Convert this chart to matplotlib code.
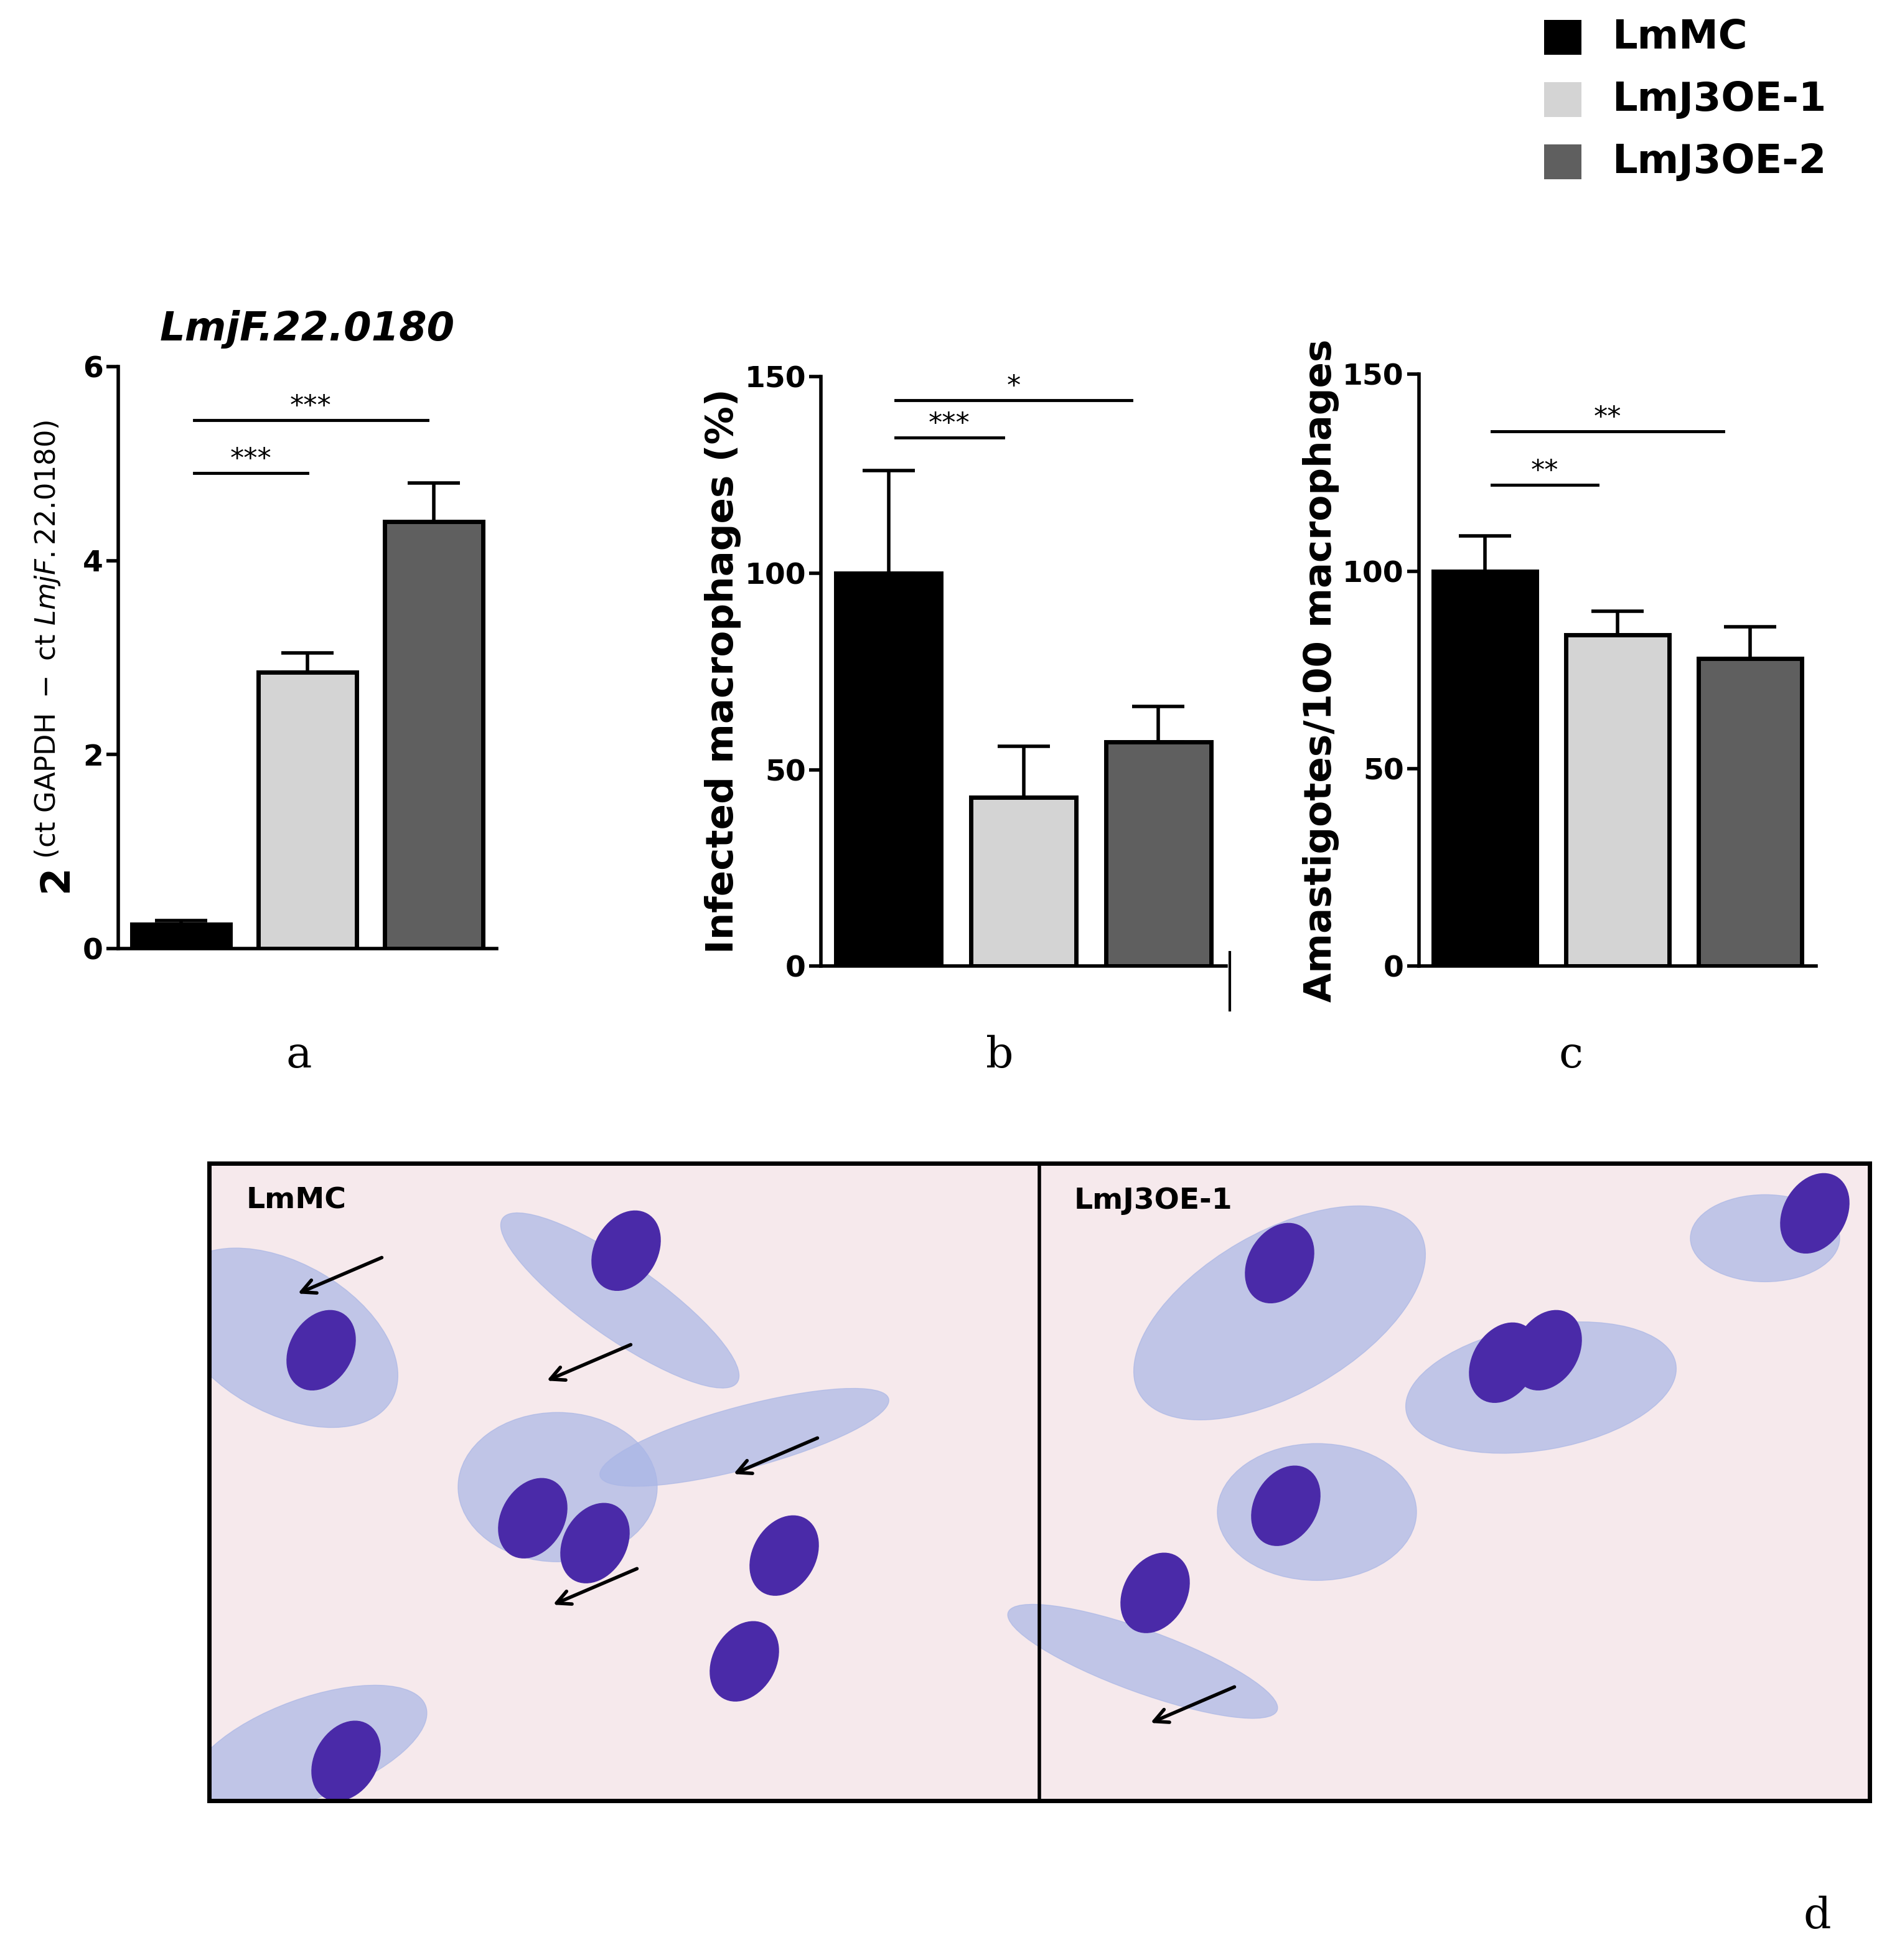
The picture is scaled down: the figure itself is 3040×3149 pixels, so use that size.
import matplotlib
matplotlib.use("Agg")
import matplotlib.pyplot as plt
from matplotlib.patches import Ellipse, Rectangle

groups = ["LmMC", "LmJ3OE-1", "LmJ3OE-2"]
colors = ["#000000", "#d4d4d4", "#5f5f5f"]
a_vals = [0.25, 2.85, 4.4]; a_err = [0.04, 0.2, 0.4]
b_vals = [100, 43, 57]; b_err = [26, 13, 9]
c_vals = [100, 84, 78]; c_err = [9, 6, 8]

fig = plt.figure(figsize=(30.4, 31.49), dpi=100)
plt.rcParams['font.family'] = ['DejaVu Sans']

def panel(rect, vals, errs, ylim, ticks, sig, ylabel=None):
    ax = fig.add_axes(rect)
    x = range(len(vals))
    ax.bar(x, vals, width=0.78, color=colors, edgecolor="black", linewidth=5,
           yerr=[[0]*3, errs], error_kw=dict(ecolor="black", elinewidth=4, capsize=30, capthick=4))
    ax.set_ylim(*ylim); ax.set_xlim(-0.5, 2.5)
    ax.set_yticks(ticks)
    ax.tick_params(axis="y", labelsize=34, width=4, length=14, direction="out")
    for t in ax.get_yticklabels(): t.set_fontweight("bold")
    ax.set_xticks([])
    for s in ["top", "right"]: ax.spines[s].set_visible(False)
    for s in ["left", "bottom"]: ax.spines[s].set_linewidth(4)
    for x0, x1, y, lab in sig:
        ax.plot([x0, x1], [y, y], color="black", lw=3.5)
        ax.text((x0+x1)/2, y, lab, ha="center", va="bottom", fontsize=32)
    if ylabel: ax.set_ylabel(ylabel, fontsize=44, fontweight="bold")
    return ax

axa = panel([0.0625, 0.516, 0.2, 0.297], a_vals, a_err, (0, 6), [0, 2, 4, 6],
            [(0.1, 1.0, 4.9, "***"), (0.1, 1.95, 5.45, "***")])
axa.set_ylabel(r"$\mathbf{2}^{\ \mathrm{(ct\ GAPDH\ -\ ct\ }\mathit{LmjF.22.0180}\mathrm{)}}$", fontsize=46)
axa.set_title("LmjF.22.0180", fontsize=46, fontweight="bold", style="italic", pad=30)
panel([0.434, 0.507, 0.214, 0.301], b_vals, b_err, (0, 150), [0, 50, 100, 150],
      [(0.05, 0.85, 134.5, "***"), (0.05, 1.8, 144, "*")], "Infected macrophages (%)")
panel([0.75, 0.507, 0.21, 0.302], c_vals, c_err, (0, 150), [0, 50, 100, 150],
      [(0.05, 0.85, 122, "**"), (0.05, 1.8, 135.5, "**")], "Amastigotes/100 macrophages")

for i, (g, c) in enumerate(zip(groups, colors)):
    y = 1 - (30 + i*50)/1575
    fig.patches.append(Rectangle((0.816, y-0.009), 0.02, 0.018, transform=fig.transFigure,
                                 facecolor=c, edgecolor="none"))
    fig.text(0.852, y, g, fontsize=46, fontweight="bold", va="center")

for lab, x, y in [("a", 240, 848), ("b", 803, 848), ("c", 1262, 848), ("d", 1460, 1540)]:
    fig.text(x/1520, 1-y/1575, lab, fontsize=50, family="DejaVu Serif", ha="center", va="center")
fig.add_artist(plt.Line2D([988/1520]*2, [1-765/1575, 1-812/1575], color="black", lw=3))

axd = fig.add_axes([168/1520, 1-1447/1575, (1502-168)/1520, (1447-935)/1575])
axd.set_xlim(0, 1334); axd.set_ylim(512, 0)
axd.set_facecolor("#f6e9ec"); axd.set_xticks([]); axd.set_yticks([])
for s in axd.spines.values(): s.set_linewidth(5)
axd.axvline(667, color="black", lw=4)
cyto = [(60, 140, 200, 120, 30), (330, 110, 60, 230, -55), (280, 260, 160, 120, 0), (430, 220, 50, 240, 75),
        (860, 120, 130, 260, 60), (1070, 180, 220, 100, -10), (1250, 60, 120, 70, 0),
        (890, 280, 160, 110, 0), (750, 400, 50, 230, -70), (80, 470, 200, 80, -20)]
for x, y, w, h, a in cyto:
    axd.add_patch(Ellipse((x, y), w, h, angle=a, color="#a9b6e6", alpha=0.7))
nuclei = [(90, 150), (335, 70), (260, 285), (310, 305), (462, 315), (430, 400), (860, 80), (1040, 160),
          (1075, 150), (1290, 40), (865, 275), (760, 345), (110, 480)]
for x, y in nuclei:
    axd.add_patch(Ellipse((x, y), 50, 68, angle=30, color="#4a2aa8"))
for x, y in [(70, 105), (270, 175), (420, 250), (275, 355), (755, 450)]:
    axd.annotate("", xy=(x, y), xytext=(x+70, y-30),
                 arrowprops=dict(arrowstyle="->", lw=4, color="black", mutation_scale=40))
axd.text(30, 30, "LmMC", fontsize=34, fontweight="bold", va="center")
axd.text(695, 30, "LmJ3OE-1", fontsize=34, fontweight="bold", va="center")

fig.savefig("out.png", dpi=100)
